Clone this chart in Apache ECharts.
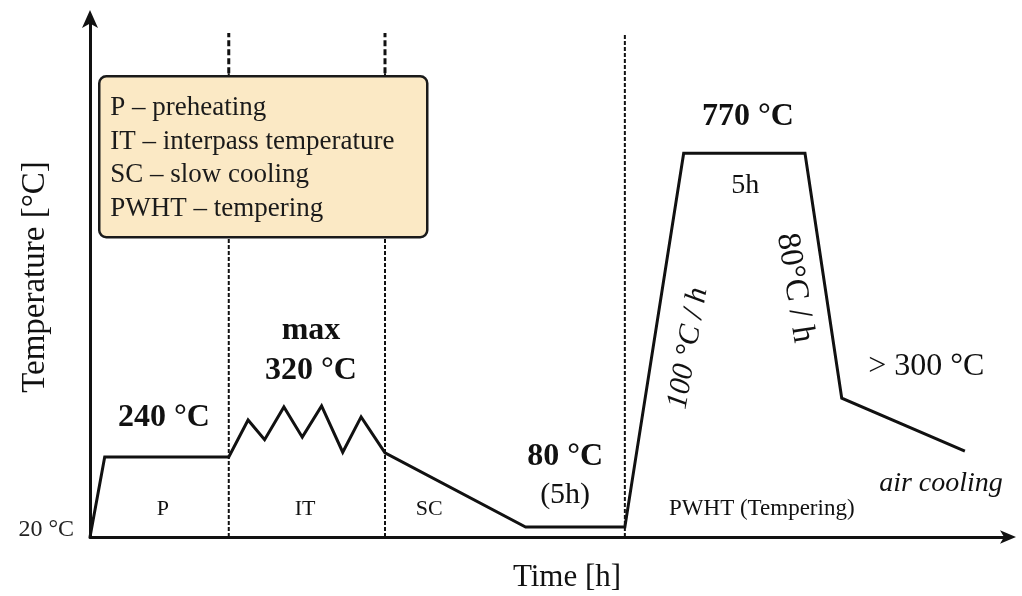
<!DOCTYPE html>
<html>
<head>
<meta charset="utf-8">
<title>Heat treatment schedule</title>
<script src="https://cdn.jsdelivr.net/npm/echarts@6/dist/echarts.min.js"></script>
<style>
  html, body { margin: 0; padding: 0; background: #fff; }
  #chart { width: 1022px; height: 596px; }
</style>
</head>
<body>
<div id="chart"></div>
<script>
// schematic profile: time and temperature level in sketch units (0..100)
var profileTime  = [0, 1.6, 15.1, 17.2, 19.0, 21.1, 23.1, 25.2, 27.5, 29.5, 32.1, 47.4, 58.2, 64.6, 77.8, 81.8, 95.2]
var profileLevel = [0, 15.4, 15.4, 22.5, 18.7, 25.0, 19.2, 25.2, 16.3, 23.1, 16.2, 1.9, 1.9, 73.8, 73.8, 26.7, 16.5]

// phase boundaries P | IT | SC | PWHT
var phaseBounds = [15.1, 32.1, 58.2]
var guideTop = 96.9
var boxTop = 89.2

// annotations on the curve
var noteText  = ['240 °C', 'max', '320 °C', 'P', 'IT', 'SC', '80 °C', '(5h)', 'PWHT (Tempering)', '770 °C', '5h', '100 °C / h', '80°C / h', '> 300 °C', 'air cooling']
var noteTime  = [8.05, 24.05, 24.05, 7.94, 23.4, 36.9, 51.7, 51.7, 73.1, 71.6, 71.3, 65.1, 76.7, 91.0, 92.6]
var noteLevel = [22.9, 39.6, 31.9, 5.4, 5.4, 5.4, 15.4, 8.1, 5.4, 80.8, 67.5, 36.3, 47.9, 32.7, 10.2]

var legendLines = ['P – preheating', 'IT – interpass temperature', 'SC – slow cooling', 'PWHT – tempering']

var serif = '"Liberation Serif", "DejaVu Serif", serif'
var ink = '#111'

// look of each note (same order as noteText)
var bold = { fontSize: 32, fontWeight: 'bold' }
var small = { fontSize: 22 }
var noteLook = [
  bold, bold, bold, small, small, small, bold,
  { fontSize: 30 }, { fontSize: 23 }, bold, { fontSize: 28 },
  { fontSize: 30, fontStyle: 'italic', rotate: 80 },
  { fontSize: 33, rotate: -81 },
  { fontSize: 32 },
  { fontSize: 28, fontStyle: 'italic' }
]

var chart = echarts.init(document.getElementById('chart'))

var guideSeries = []
phaseBounds.forEach(function (t, i) {
  var hasBox = i < 2
  guideSeries.push({
    type: 'line',
    silent: true,
    symbol: 'none',
    data: [[t, 0], [t, hasBox ? boxTop : guideTop]],
    lineStyle: { color: ink, width: 2, type: [4, 2] },
    z: 1
  })
  if (hasBox) {
    guideSeries.push({
      type: 'line',
      silent: true,
      symbol: 'none',
      data: [[t, boxTop], [t, guideTop]],
      lineStyle: { color: ink, width: 3, type: [6, 3] },
      z: 1
    })
  }
})

var noteData = noteText.map(function (txt, i) {
  var look = noteLook[i]
  return {
    value: [noteTime[i], noteLevel[i]],
    label: {
      show: true,
      formatter: txt,
      position: 'inside',
      align: 'center',
      verticalAlign: 'middle',
      rotate: look.rotate || 0,
      fontFamily: serif,
      fontSize: look.fontSize,
      fontWeight: look.fontWeight || 'normal',
      fontStyle: look.fontStyle || 'normal',
      color: ink,
      opacity: 1,
      textBorderWidth: 0
    }
  }
})

chart.setOption({
  animation: false,
  grid: { left: 90, right: 13, top: 17, bottom: 59, outerBoundsMode: 'none' },
  xAxis: {
    type: 'value',
    min: 0,
    max: 100,
    name: 'Time [h]',
    nameLocation: 'middle',
    nameGap: 25,
    nameMoveOverlap: false,
    nameTextStyle: { fontFamily: serif, fontSize: 31, color: ink, padding: [0, 0, 0, 35], verticalAlign: 'top' },
    axisLine: {
      symbol: ['none', 'arrow'],
      symbolSize: [10, 16],
      symbolOffset: [0, 7],
      lineStyle: { color: ink, width: 3 }
    },
    axisTick: { show: false },
    axisLabel: { show: false },
    splitLine: { show: false }
  },
  yAxis: {
    type: 'value',
    min: 0,
    max: 100,
    interval: 100,
    name: 'Temperature [°C]',
    nameLocation: 'middle',
    nameRotate: 90,
    nameGap: 38,
    nameMoveOverlap: false,
    nameTextStyle: { fontFamily: serif, fontSize: 33, color: ink },
    axisLine: {
      symbol: ['none', 'arrow'],
      symbolSize: [12, 18],
      symbolOffset: [0, 7],
      lineStyle: { color: ink, width: 3 }
    },
    axisTick: { show: false },
    axisLabel: {
      margin: 16,
      fontFamily: serif,
      fontSize: 24,
      color: '#222',
      verticalAlign: 'bottom',
      lineHeight: 14,
      formatter: function (v) { return v === 0 ? '20 °C' : '' }
    },
    splitLine: { show: false }
  },
  graphic: [{
    type: 'group',
    left: 98,
    top: 75,
    z: 100,
    children: [{
      type: 'rect',
      z: 100,
      shape: { x: 0, y: 0, width: 328, height: 161, r: 7 },
      style: { fill: '#fbe9c5', stroke: '#1a1a1a', lineWidth: 2.5 }
    }].concat(legendLines.map(function (line, i) {
      return {
        type: 'text',
        z: 101,
        x: 11,
        y: 32 + i * 33.5,
        style: {
          text: line,
          fontFamily: serif,
          fontSize: 27,
          fill: '#1a1a1a',
          verticalAlign: 'middle'
        }
      }
    }))
  }],
  series: [{
    type: 'line',
    name: 'profile',
    symbol: 'none',
    data: profileTime.map(function (t, i) { return [t, profileLevel[i]] }),
    lineStyle: { color: ink, width: 3, join: 'miter' },
    z: 3
  }].concat(guideSeries).concat([{
    type: 'scatter',
    name: 'notes',
    silent: true,
    symbolSize: 0,
    itemStyle: { color: 'rgba(0,0,0,0)', opacity: 1 },
    data: noteData,
    z: 4
  }])
})
</script>
</body>
</html>
